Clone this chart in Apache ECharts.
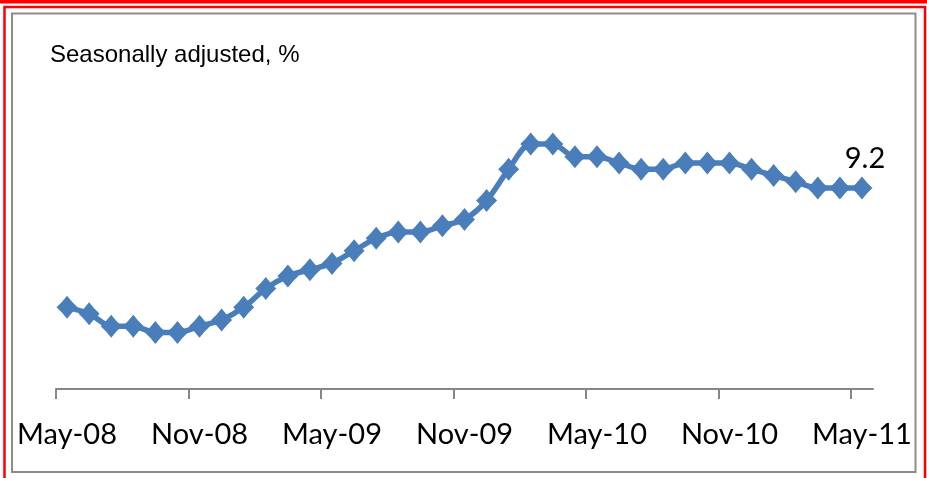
<!DOCTYPE html>
<html>
<head>
<meta charset="utf-8">
<style>
  html, body { margin: 0; padding: 0; background: #fff; }
  #chart { width: 927px; height: 478px; }
</style>
<script src="https://cdn.jsdelivr.net/npm/echarts@6/dist/echarts.min.js"></script>
</head>
<body>
<div id="chart"></div>
<script>
// Monthly unemployment rate, seasonally adjusted (%)
const months = [
  'May-08','Jun-08','Jul-08','Aug-08','Sep-08','Oct-08','Nov-08','Dec-08',
  'Jan-09','Feb-09','Mar-09','Apr-09','May-09','Jun-09','Jul-09','Aug-09',
  'Sep-09','Oct-09','Nov-09','Dec-09','Jan-10','Feb-10','Mar-10','Apr-10',
  'May-10','Jun-10','Jul-10','Aug-10','Sep-10','Oct-10','Nov-10','Dec-10',
  'Jan-11','Feb-11','Mar-11','Apr-11','May-11'
];
const rate = [
  7.3, 7.2, 7.0, 7.0, 6.9, 6.9, 7.0, 7.1,
  7.3, 7.6, 7.8, 7.9, 8.0, 8.2, 8.4, 8.5,
  8.5, 8.6, 8.7, 9.0, 9.5, 9.9, 9.9, 9.7,
  9.7, 9.6, 9.5, 9.5, 9.6, 9.6, 9.6, 9.5,
  9.4, 9.3, 9.2, 9.2, 9.2
];
const subtitle = 'Seasonally adjusted, %';

const chart = echarts.init(document.getElementById('chart'), null, { renderer: 'canvas' });

const lineColor = '#4A7EBB';
const axisGray = '#868686';
const labelFont = 'Lato, "Open Sans", sans-serif';

// Last point carries its value label
const seriesData = rate.map((v, i) =>
  i === rate.length - 1 ? { value: v, label: { show: true } } : v
);

chart.setOption({
  animation: false,
  backgroundColor: '#ffffff',
  grid: { left: 56, right: 54, top: 75, bottom: 89, containLabel: false },
  xAxis: [
    {
      type: 'category',
      data: months,
      boundaryGap: true,
      axisLine: { show: true, lineStyle: { color: axisGray, width: 2 } },
      axisTick: { show: false },
      axisLabel: {
        interval: 5,
        margin: 31,
        color: '#000',
        fontFamily: labelFont,
        fontSize: 29
      },
      splitLine: { show: false }
    },
    {
      // tick marks on the month boundaries, one every six months
      type: 'category',
      data: months.concat(['']),
      boundaryGap: false,
      position: 'bottom',
      axisLine: { show: false },
      axisLabel: { show: false },
      axisTick: { show: true, interval: 5, length: 10, lineStyle: { color: axisGray, width: 2 } },
      splitLine: { show: false }
    }
  ],
  yAxis: {
    type: 'value',
    min: 6,
    max: 11,
    show: false,
    splitLine: { show: false }
  },
  series: [{
    type: 'line',
    data: seriesData,
    xAxisIndex: 0,
    smooth: 0.3,
    showAllSymbol: true,
    symbol: 'path://M0,-11 Q4.5,-5 10,0 Q4.5,5 0,11 Q-4.5,5 -10,0 Q-4.5,-5 0,-11 Z',
    symbolSize: [21, 23],
    lineStyle: { color: lineColor, width: 5.5 },
    itemStyle: { color: lineColor, borderWidth: 0 },
    label: {
      show: false,
      position: 'top',
      distance: 3,
      offset: [3, 0],
      color: '#000',
      fontFamily: labelFont,
      fontSize: 29
    },
    emphasis: { disabled: true }
  }],
  graphic: [
    { type: 'rect', silent: true, z: 100,
      shape: { x: 0, y: 0, width: 927, height: 3.5 },
      style: { fill: '#FF0000' } },
    { type: 'rect', silent: true, z: 100,
      shape: { x: 4.5, y: 7, width: 920.5, height: 480 },
      style: { fill: null, stroke: '#FF0000', lineWidth: 2.5 } },
    { type: 'rect', silent: true, z: 100,
      shape: { x: 12, y: 13.5, width: 903.5, height: 458.5 },
      style: { fill: null, stroke: '#8C8C8C', lineWidth: 2 } },
    { type: 'text', silent: true, z: 100,
      x: 50, y: 43,
      style: {
        text: subtitle,
        fill: '#000',
        font: '24px "Liberation Sans", Arial, sans-serif',
        verticalAlign: 'top'
      } }
  ]
});
</script>
</body>
</html>
